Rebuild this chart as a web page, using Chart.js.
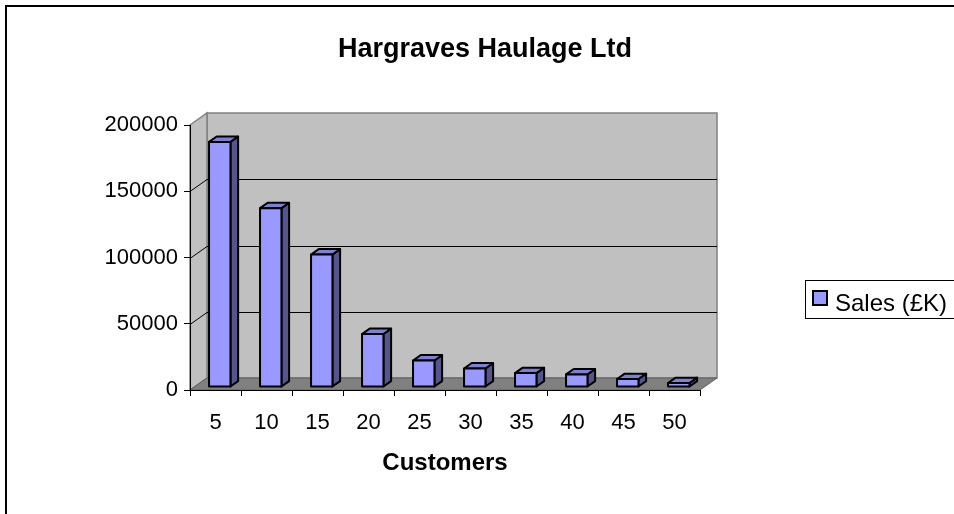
<!DOCTYPE html>
<html>
<head>
<meta charset="utf-8">
<title>Hargraves Haulage Ltd</title>
<style>
  html, body { margin: 0; padding: 0; background: #fff; }
  canvas { display: block; }
</style>
<script src="https://cdn.jsdelivr.net/npm/chart.js@4.4.0/dist/chart.umd.min.js"></script>
</head>
<body>
<canvas id="salesChart" width="954" height="514"></canvas>
<script>
// chart data
var customers = ['5', '10', '15', '20', '25', '30', '35', '40', '45', '50'];
var sales = [185000, 135000, 100000, 40000, 20000, 14000, 10500, 9500, 6000, 3000];
var yTicks = [0, 50000, 100000, 150000, 200000];
var chartTitle = 'Hargraves Haulage Ltd';
var seriesName = 'Sales (£K)';
var xTitle = 'Customers';

var FONT = '"Liberation Sans", Arial, sans-serif';
// depth of the fake 3d box (back wall offset from the front plane)
var DX = 17, DY = -12;
// bars sit between these fractions of the depth
var F1 = 0.25, F2 = 0.7;

function poly(ctx, pts, fill, stroke, lw) {
  ctx.beginPath();
  ctx.moveTo(pts[0][0], pts[0][1]);
  for (var i = 1; i < pts.length; i++) ctx.lineTo(pts[i][0], pts[i][1]);
  ctx.closePath();
  if (fill) { ctx.fillStyle = fill; ctx.fill(); }
  if (stroke) { ctx.strokeStyle = stroke; ctx.lineWidth = lw || 1; ctx.stroke(); }
}

var excel3d = {
  id: 'excel3d',
  beforeDraw: function(chart) {
    var ctx = chart.ctx;
    var a = chart.chartArea;
    var y = chart.scales.y;
    ctx.save();

    // outer frame of the chart object
    ctx.strokeStyle = '#000';
    ctx.lineWidth = 2;
    ctx.beginPath();
    ctx.moveTo(6, 514);
    ctx.lineTo(6, 6);
    ctx.lineTo(954, 6);
    ctx.stroke();

    // title
    ctx.fillStyle = '#000';
    ctx.font = 'bold 27px ' + FONT;
    ctx.textAlign = 'center';
    ctx.textBaseline = 'alphabetic';
    ctx.fillText(chartTitle, 485, 57);

    // back wall, side wall, floor
    poly(ctx, [[a.left + DX, a.top + DY], [a.right + DX, a.top + DY], [a.right + DX, a.bottom + DY], [a.left + DX, a.bottom + DY]], '#C0C0C0', '#808080', 1.5);
    poly(ctx, [[a.left, a.top], [a.left + DX, a.top + DY], [a.left + DX, a.bottom + DY], [a.left, a.bottom]], '#C0C0C0', '#808080', 1.5);
    poly(ctx, [[a.left, a.bottom], [a.right, a.bottom], [a.right + DX, a.bottom + DY], [a.left + DX, a.bottom + DY]], '#808080', '#606060', 1);

    // gridlines on the wall
    ctx.strokeStyle = '#000';
    ctx.lineWidth = 1;
    yTicks.forEach(function(v) {
      if (v === 0 || v === yTicks[yTicks.length - 1]) return;
      var py = Math.round(y.getPixelForValue(v)) + 0.5;
      ctx.beginPath();
      ctx.moveTo(a.left, py);
      ctx.lineTo(a.left + DX, py + DY);
      ctx.lineTo(a.right + DX, py + DY);
      ctx.stroke();
    });
    ctx.restore();
  },
  beforeDatasetsDraw: function(chart) {
    var ctx = chart.ctx;
    var meta = chart.getDatasetMeta(0);
    var ox = DX * F1, oy = DY * F1;
    var dx = DX * (F2 - F1), dy = DY * (F2 - F1);
    ctx.save();
    ctx.lineJoin = 'round';
    meta.data.forEach(function(bar) {
      var p = bar.getProps(['x', 'y', 'base', 'width'], true);
      var x0 = p.x - p.width / 2 + ox, x1 = p.x + p.width / 2 + ox;
      var top = p.y + oy, bot = p.base + oy;
      // side
      poly(ctx, [[x1, top], [x1 + dx, top + dy], [x1 + dx, bot + dy], [x1, bot]], '#55558C', '#000', 2);
      // top
      poly(ctx, [[x0, top], [x1, top], [x1 + dx, top + dy], [x0 + dx, top + dy]], '#7F7FD6', '#000', 2);
      // front
      poly(ctx, [[x0, top], [x1, top], [x1, bot], [x0, bot]], '#9999FF', '#000', 2);
    });
    ctx.restore();
    return false;
  },
  afterDraw: function(chart) {
    var ctx = chart.ctx;
    ctx.save();
    // legend
    ctx.strokeStyle = '#000';
    ctx.lineWidth = 1;
    ctx.strokeRect(805.5, 280.5, 170, 38);
    ctx.fillStyle = '#9999FF';
    ctx.fillRect(813, 291, 14, 14);
    ctx.lineWidth = 2;
    ctx.strokeRect(813, 291, 14, 14);
    ctx.fillStyle = '#000';
    ctx.font = '24px ' + FONT;
    ctx.textAlign = 'left';
    ctx.textBaseline = 'alphabetic';
    ctx.fillText(chart.data.datasets[0].label, 835, 311);
    ctx.restore();
  }
};

new Chart(document.getElementById('salesChart').getContext('2d'), {
  type: 'bar',
  data: {
    labels: customers,
    datasets: [{
      label: seriesName,
      data: sales,
      backgroundColor: '#9999FF',
      borderColor: '#000',
      borderWidth: 2,
      categoryPercentage: 1,
      barPercentage: 0.42
    }]
  },
  options: {
    responsive: false,
    animation: false,
    layout: {
      padding: { left: 90, right: 254, top: 125, bottom: 36 }
    },
    plugins: {
      legend: { display: false },
      title: { display: false },
      tooltip: { enabled: false }
    },
    scales: {
      x: {
        grid: { drawOnChartArea: false, drawTicks: true, tickLength: 6, color: '#000', offset: true },
        border: { display: true, color: '#000', width: 1 },
        ticks: { color: '#000', font: { family: FONT, size: 22 }, padding: 14, maxRotation: 0 },
        title: { display: true, text: xTitle, color: '#000', font: { family: FONT, size: 24, weight: 'bold' }, padding: 0 },
        afterFit: function(scale) { scale.height = 88; }
      },
      y: {
        min: 0,
        max: 200000,
        grid: { drawOnChartArea: false, drawTicks: true, tickLength: 6, color: '#000' },
        border: { display: true, color: '#000', width: 1 },
        ticks: {
          color: '#000',
          font: { family: FONT, size: 22 },
          padding: 6,
          callback: function(v) { return String(v); }
        },
        afterBuildTicks: function(scale) {
          scale.ticks = yTicks.map(function(v) { return { value: v }; });
        },
        afterFit: function(scale) { scale.width = 100; }
      }
    }
  },
  plugins: [excel3d]
});
</script>
</body>
</html>
